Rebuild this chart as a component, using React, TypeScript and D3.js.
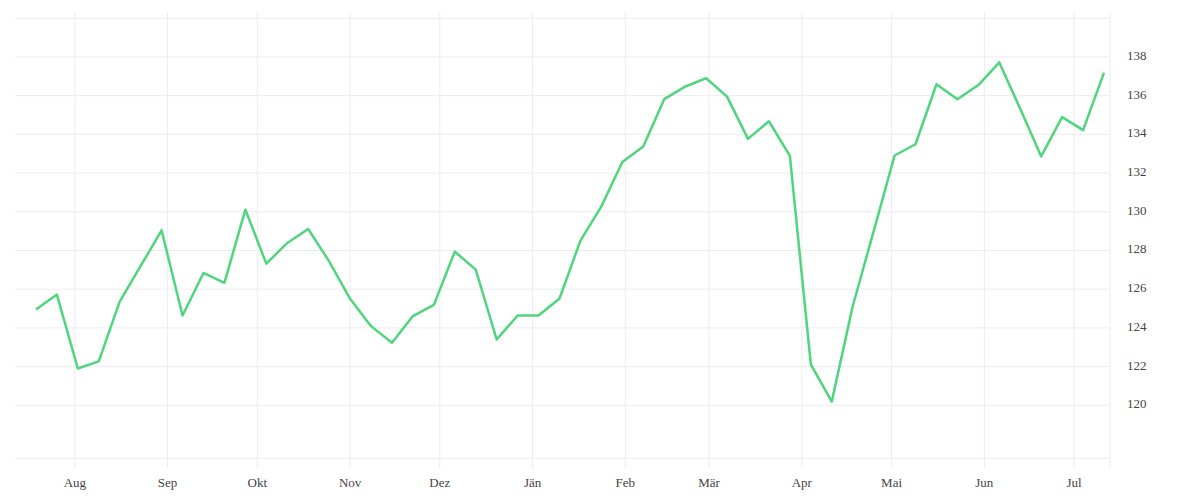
import * as d3 from "d3";

const startDate = new Date(2018, 6, 19);
const domainStart = new Date(2018, 6, 12);
const domainEnd = new Date(2019, 6, 13);

const values = [
    124.95, 125.72, 121.9, 122.27, 125.36, 127.2, 129.04, 124.64, 126.84, 126.33,
    130.11, 127.32, 128.39, 129.11, 127.44, 125.5, 124.09, 123.23, 124.61, 125.19,
    127.94, 127.01, 123.4, 124.64, 124.64, 125.52, 128.51, 130.28, 132.57, 133.37,
    135.82, 136.47, 136.9, 135.95, 133.77, 134.68, 132.89, 122.11, 120.19, 125.12,
    128.99, 132.91, 133.49, 136.59, 135.82, 136.55, 137.72, 135.32, 132.86, 134.89,
    134.22, 137.19
];

const monthLabels = ["Aug", "Sep", "Okt", "Nov", "Dez", "Jän", "Feb", "Mär", "Apr", "Mai", "Jun", "Jul"];
const yTicks = [120, 122, 124, 126, 128, 130, 132, 134, 136, 138];

const width = 1200;
const height = 500;
const left = 15;
const right = 1110;
const top = 18.3;
const bottom = 458.3;

export default function App() {
    // weekly observations
    const data = values.map((v, i) => ({date: d3.timeDay.offset(startDate, i * 7), value: v}));

    const x = d3.scaleTime([domainStart, domainEnd], [left, right]);
    const y = d3.scaleLinear([117.26, 140], [bottom, top]);

    const months = d3.timeMonth.range(d3.timeMonth.ceil(domainStart), domainEnd);

    const line = d3.line<{ date: Date, value: number }>()
        .x(d => x(d.date))
        .y(d => y(d.value));

    const gridColor = "#ececec";

    return <svg width={width} height={height} viewBox={`0 0 ${width} ${height}`}
                style={{position: "absolute", left: 0, top: 0}}>
        {/* horizontal grid incl. plot top/bottom */}
        {[...yTicks, 140, 117.26].map(t =>
            <line key={"h" + t} x1={left} x2={right} y1={y(t)} y2={y(t)} stroke={gridColor} strokeWidth={1}/>
        )}
        {months.map((m, i) =>
            <g key={"m" + i}>
                <line x1={x(m)} x2={x(m)} y1={top - 6} y2={bottom + 10} stroke={gridColor} strokeWidth={1}/>
                <text x={x(m)} y={bottom + 26} textAnchor="middle" dominantBaseline="middle"
                      fontSize={13} fill="#444">{monthLabels[i]}</text>
            </g>
        )}
        <line x1={right} x2={right} y1={top - 6} y2={bottom + 10} stroke={gridColor} strokeWidth={1}/>
        {yTicks.map(t =>
            <text key={"y" + t} x={right + 17} y={y(t)} dominantBaseline="middle" fontSize={13} fill="#444">{t}</text>
        )}
        <path d={line(data) ?? ""} fill="none" stroke="#4fd57d" strokeWidth={2.5} strokeLinejoin="round"/>
    </svg>
}
